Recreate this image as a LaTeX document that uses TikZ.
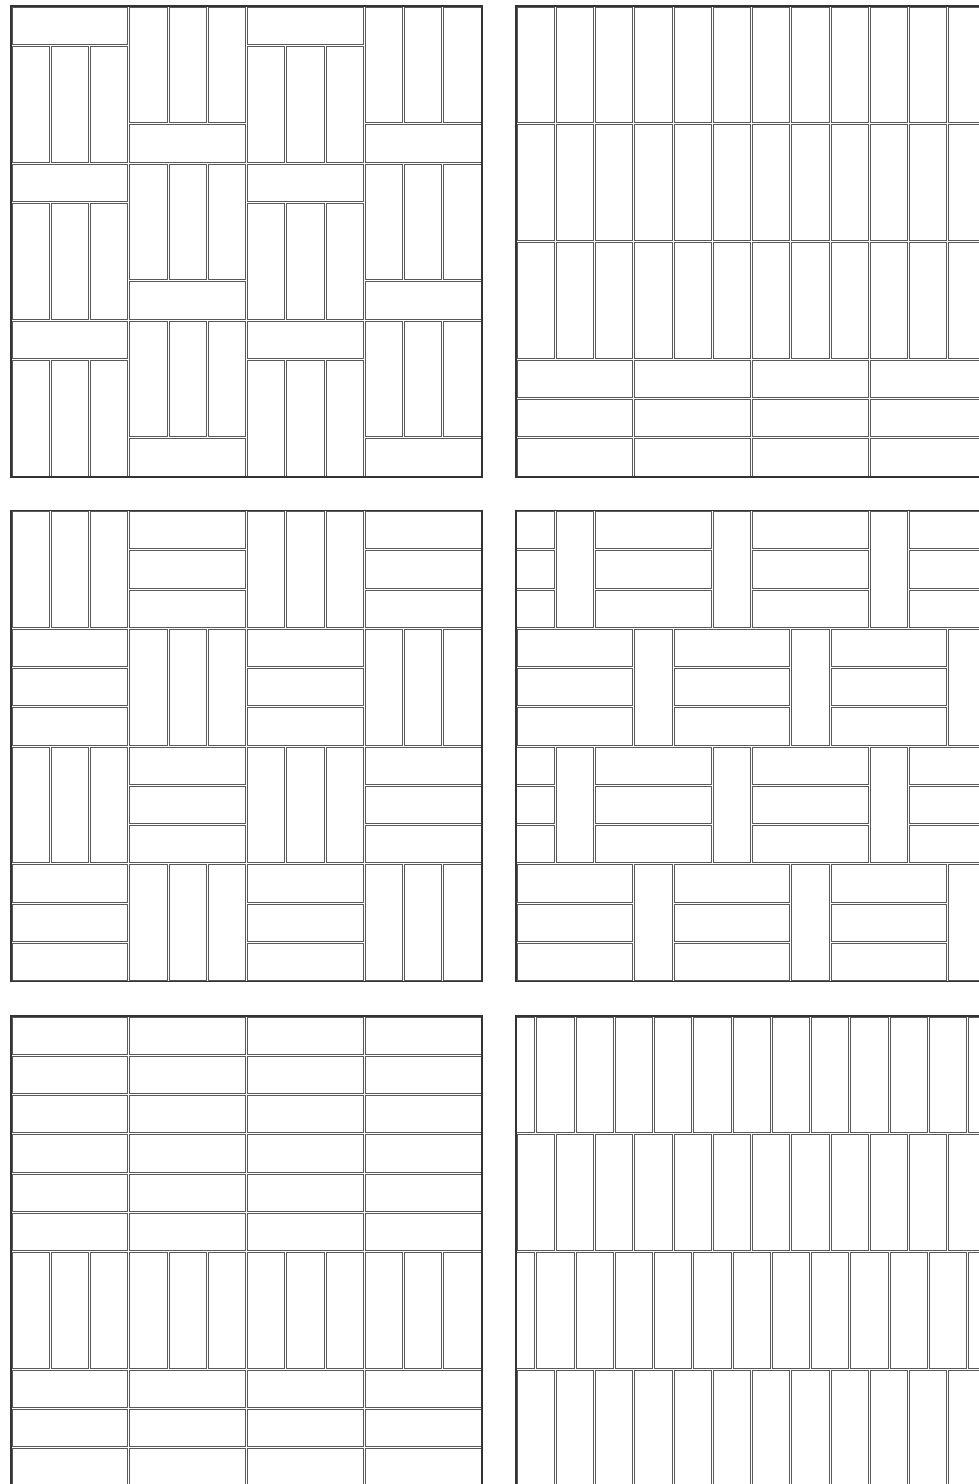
\documentclass[tikz,border=0pt]{standalone}
\tikzset{
  tile/.style={draw=black!65, line width=0.7pt},
  frame/.style={draw=black!80, line width=1.6pt},
  panel/.style={x=39.25pt, y=-39.25pt},
}
\newcommand{\tgap}{1pt}
\newcommand{\brick}[4]{\draw[tile] ([shift={(\tgap,-\tgap)}]#1,#2) rectangle ([shift={(-\tgap,\tgap)}]#1+#3,#2+#4);}
\begin{document}
\begin{tikzpicture}[x=1pt, y=-1pt]
  \clip (0,0) rectangle (979,1484);
  \fill[white] (0,0) rectangle (979,1484);

  % pinwheel
  \begin{scope}[shift={(11pt,-6pt)}, panel]
    \foreach \c in {0,...,3} \foreach \r in {0,1,2} {
      \pgfmathtruncatemacro\bx{3*\c}
      \pgfmathtruncatemacro\by{4*\r}
      \pgfmathtruncatemacro\hy{\by+3*mod(\c,2)}
      \pgfmathtruncatemacro\vy{\by+1-mod(\c,2)}
      \brick{\bx}{\hy}{3}{1}
      \foreach \i in {0,1,2} {\brick{\bx+\i}{\vy}{1}{3}}
    }
    \draw[frame] (0,0) rectangle (12,12);
  \end{scope}

  % stack bond
  \begin{scope}[shift={(516pt,-6pt)}, panel]
    \foreach \r in {0,1,2} \foreach \i in {0,...,11} {\brick{\i}{3*\r}{1}{3}}
    \foreach \r in {9,10,11} \foreach \c in {0,3,6,9} {\brick{\c}{\r}{3}{1}}
    \draw[frame] (0,0) rectangle (12,12);
  \end{scope}

  % basket weave
  \begin{scope}[shift={(11pt,-510.5pt)}, panel]
    \foreach \c in {0,...,3} \foreach \r in {0,...,3} {
      \pgfmathtruncatemacro\p{mod(\c+\r,2)}
      \foreach \i in {0,1,2} {
        \ifnum\p=0 \brick{3*\c+\i}{3*\r}{1}{3}
        \else \brick{3*\c}{3*\r+\i}{3}{1}\fi
      }
    }
    \draw[frame] (0,0) rectangle (12,12);
  \end{scope}

  % offset basket
  \begin{scope}[shift={(516pt,-510.5pt)}, panel]
    \begin{scope}
      \clip (0,0) rectangle (12,12);
      \foreach \r in {0,...,3} {
        \pgfmathtruncatemacro\s{1+2*mod(\r,2)}
        \foreach \k in {0,1,2} {\brick{\s+4*\k}{3*\r}{1}{3}}
        \foreach \k in {0,...,3} \foreach \i in {0,1,2} {\brick{\s-3+4*\k}{3*\r+\i}{3}{1}}
      }
    \end{scope}
    \draw[frame] (0,0) rectangle (12,12);
  \end{scope}

  % mixed courses
  \begin{scope}[shift={(11pt,-1016pt)}, panel]
    \foreach \r in {0,...,5,9,10,11} \foreach \c in {0,3,6,9} {\brick{\c}{\r}{3}{1}}
    \foreach \i in {0,...,11} {\brick{\i}{6}{1}{3}}
    \draw[frame] (0,0) rectangle (12,12);
  \end{scope}

  % running bond
  \begin{scope}[shift={(516pt,-1016pt)}, panel]
    \begin{scope}
      \clip (0,0) rectangle (12,12);
      \foreach \r in {0,...,3} {
        \pgfmathsetmacro\o{0.5*(1-mod(\r,2))}
        \foreach \i in {-1,...,11} {\brick{\i+\o}{3*\r}{1}{3}}
      }
    \end{scope}
    \draw[frame] (0,0) rectangle (12,12);
  \end{scope}
\end{tikzpicture}
\end{document}
